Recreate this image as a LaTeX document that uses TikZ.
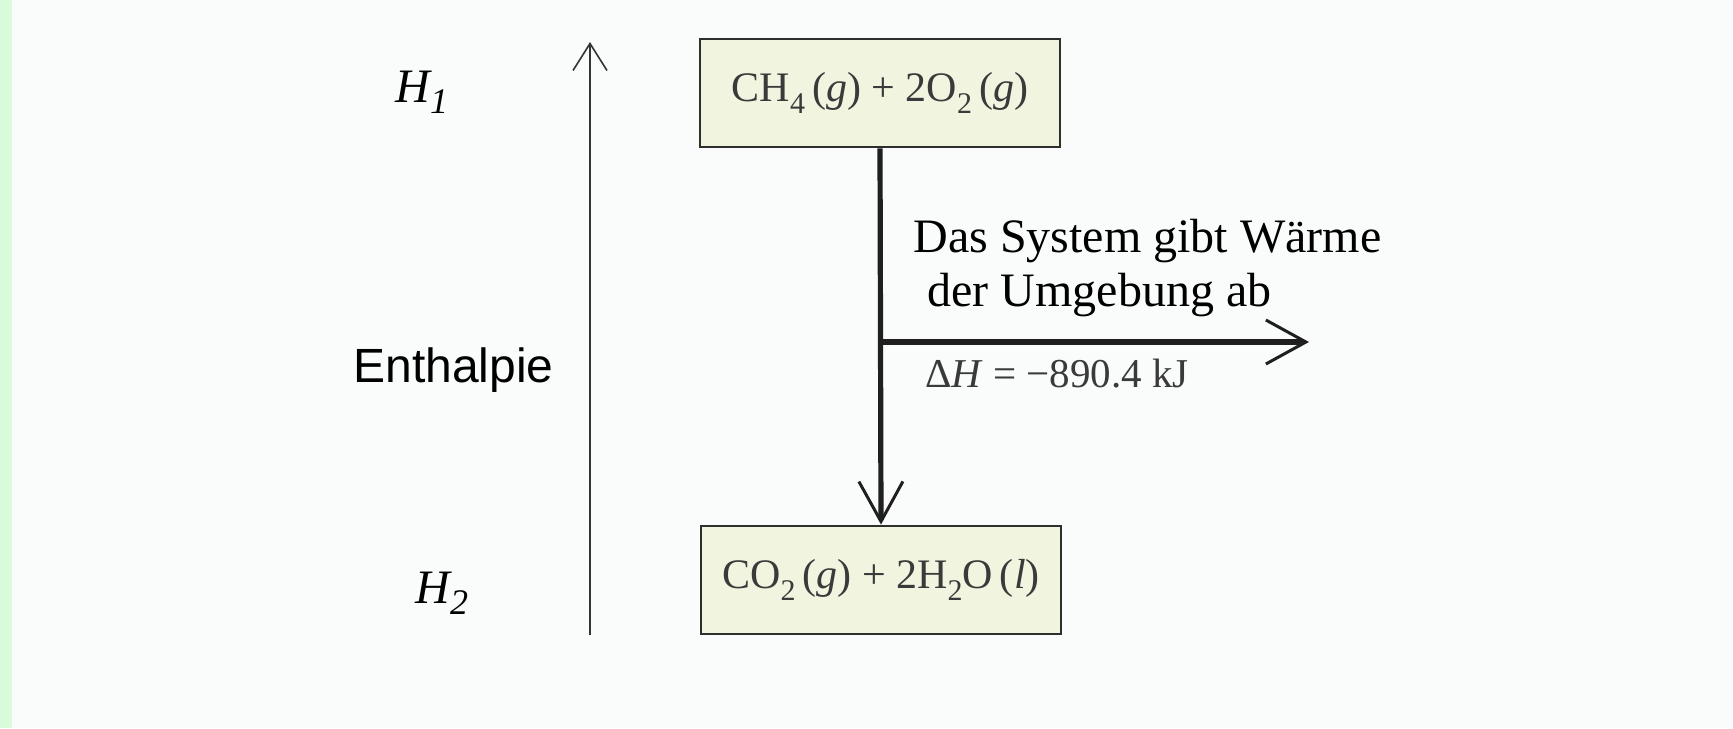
\documentclass[tikz,border=0pt]{standalone}
\usepackage{fontspec}
\setmainfont{Liberation Serif}
\newfontfamily\arialf{Liberation Sans}
\usetikzlibrary{arrows.meta}
\definecolor{bgc}{HTML}{FAFBFB}
\definecolor{stripc}{HTML}{DAFBDA}
\definecolor{boxfill}{HTML}{F1F5E0}
\definecolor{boxline}{HTML}{2E2E2E}
\definecolor{chemtext}{HTML}{3A3A3A}
\newcommand\chsub[1]{\raisebox{-0.28em}{\fontsize{15pt}{15pt}\selectfont #1}}
\newcommand\hsub[1]{\raisebox{-5.5pt}{\fontsize{18pt}{18pt}\selectfont #1}}
\tikzset{
  chembox/.style={draw=boxline, line width=1.4pt, fill=boxfill, text=chemtext,
    minimum width=180pt, minimum height=54pt, inner sep=0pt,
    font=\fontsize{21pt}{24pt}\selectfont},
  hlabel/.style={anchor=base west, inner sep=0pt, font=\fontsize{24pt}{28pt}\selectfont\itshape},
  note/.style={anchor=base west, inner sep=0pt, font=\fontsize{24pt}{28pt}\selectfont},
  axisarrow/.style={draw=black!80, line width=0.8pt,
    -{Straight Barb[length=13.5pt, width=17pt, line width=0.8pt]}},
  flowarrow/.style={draw=black!88, line width=2.6pt,
    -{Straight Barb[length=20pt, width=22pt, line width=1.5pt]}}
}
\begin{document}
\begin{tikzpicture}[x=0.5pt, y=-0.5pt]
  \useasboundingbox (0,0) rectangle (1733,728);
  \fill[bgc] (0,0) rectangle (1733,728);
  \fill[stripc] (0,0) rectangle (12,728);

  % enthalpy axis
  \coordinate (axbot) at (590,635);
  \coordinate (axtop) at (590,42);
  \draw[axisarrow] (axbot) -- (axtop);

  % boxes
  \node[chembox] (top) at (880,93) {CH\chsub{4}\,(\textit{g}) + 2O\chsub{2}\,(\textit{g})};
  \node[chembox] (bot) at (881,580) {CO\chsub{2}\,(\textit{g}) + 2H\chsub{2}O\,(\textit{l})};

  % reaction arrow
  \draw[flowarrow] (top.south) -- (bot.north);

  % heat arrow
  \coordinate (junc) at (881,342);
  \coordinate (heatend) at (1309,342);
  \draw[flowarrow] (junc) -- (heatend);

  % labels
  \node[hlabel] (h1) at (395,102) {H\hsub{1}};
  \node[hlabel] (h2) at (415,603) {H\hsub{2}};
  \node[note, font=\fontsize{24pt}{28pt}\selectfont\arialf] (enth) at (353,382) {Enthalpie};
  \node[note] (sys1) at (913,252) {Das System gibt Wärme};
  \node[note] (sys2) at (927,306) {der Umgebung ab};
  \node[note, text=chemtext, font=\fontsize{20.5pt}{24pt}\selectfont] (dh) at (925,387) {Δ\textit{H} = −890.4 kJ};
\end{tikzpicture}
\end{document}
